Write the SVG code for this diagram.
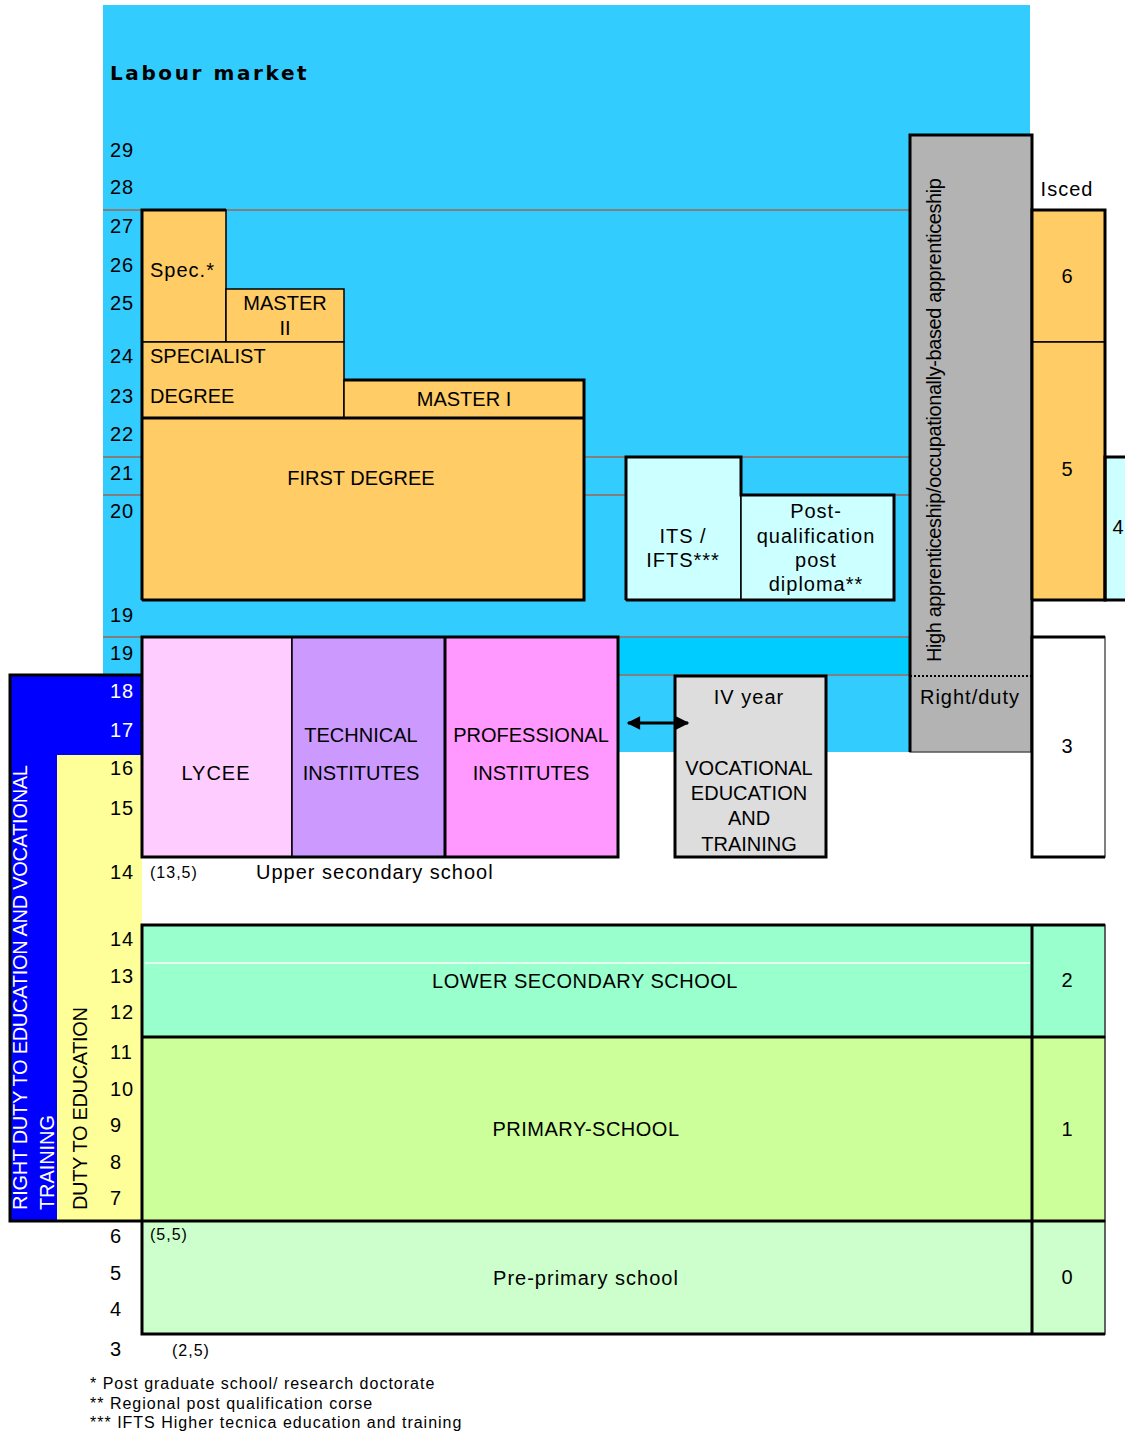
<svg xmlns="http://www.w3.org/2000/svg" width="1125" height="1433" viewBox="0 0 1125 1433">
<defs>
<style>
text{font-family:"Liberation Sans",Arial,sans-serif;font-size:20px;fill:#000}
.n{letter-spacing:1px}
.c{text-anchor:middle}
.lc{letter-spacing:1px}
.hc{letter-spacing:0.5px}
.w{fill:#fff}
.sm{font-size:16px;letter-spacing:1px}
.fn{font-size:16px;letter-spacing:1px}
.title{font-family:"DejaVu Sans",Verdana,sans-serif;font-weight:bold;font-size:20px;letter-spacing:2.6px}
.bx{stroke:#000;stroke-width:1.5}
.thick{stroke:#000;stroke-width:3;fill:none}
.grid{stroke:#808080;stroke-width:2}
.org{fill:#FFCC66}
.lcy{fill:#CCFFFF}
</style>
<marker id="ah" viewBox="0 0 10 10" refX="9" refY="5" markerWidth="5" markerHeight="4.5" orient="auto-start-reverse"><path d="M0,0 L10,5 L0,10 Z" fill="#000"/></marker>
</defs>
<rect x="0" y="0" width="1125" height="1433" fill="#fff"/>
<g id="labour-market">
<rect x="103" y="5" width="927" height="747" fill="#33CCFF"/>
<rect x="618" y="637" width="292" height="38" fill="#00CCFF"/>
<text class="title" x="110" y="80">Labour market</text>
</g>
<g id="grid">
<line class="grid" x1="103" y1="210" x2="910" y2="210"/>
<line class="grid" x1="103" y1="457" x2="910" y2="457"/>
<line class="grid" x1="103" y1="495" x2="910" y2="495"/>
<line class="grid" x1="103" y1="637" x2="910" y2="637"/>
<line class="grid" x1="103" y1="675" x2="910" y2="675"/>
<line class="grid" x1="103" y1="1073" x2="142" y2="1073"/>
<line class="grid" x1="103" y1="1110" x2="142" y2="1110"/>
</g>
<g id="duty-right">
<path d="M10,675 H142 V755 H57 V1221 H10 Z" fill="#0000FF"/>
<rect x="57" y="755" width="85" height="466" fill="#FFFF99"/>
<polyline class="thick" points="142,675 10,675 10,1221 142,1221"/>
<text class="w" transform="rotate(-90 27 1210)" x="27" y="1210" font-size="19" textLength="445" lengthAdjust="spacing">RIGHT DUTY TO EDUCATION AND VOCATIONAL</text>
<text class="w" transform="rotate(-90 54 1210)" x="54" y="1210" font-size="19" textLength="95" lengthAdjust="spacing">TRAINING</text>
</g>
<g id="duty">
<text transform="rotate(-90 87 1210)" x="87" y="1210" font-size="19" textLength="203" lengthAdjust="spacing">DUTY TO EDUCATION</text>
</g>
<g id="ages">
<text class="n" x="110" y="157">29</text>
<text class="n" x="110" y="194">28</text>
<text class="n" x="110" y="233">27</text>
<text class="n" x="110" y="272">26</text>
<text class="n" x="110" y="310">25</text>
<text class="n" x="110" y="363">24</text>
<text class="n" x="110" y="403">23</text>
<text class="n" x="110" y="441">22</text>
<text class="n" x="110" y="480">21</text>
<text class="n" x="110" y="518">20</text>
<text class="n" x="110" y="622">19</text>
<text class="n" x="110" y="660">19</text>
<text class="n w" x="110" y="698">18</text>
<text class="n w" x="110" y="737">17</text>
<text class="n" x="110" y="775">16</text>
<text class="n" x="110" y="815">15</text>
<text class="n" x="110" y="879">14</text>
<text class="n" x="110" y="946">14</text>
<text class="n" x="110" y="983">13</text>
<text class="n" x="110" y="1019">12</text>
<text class="n" x="110" y="1059">11</text>
<text class="n" x="110" y="1096">10</text>
<text class="n" x="110" y="1132">9</text>
<text class="n" x="110" y="1169">8</text>
<text class="n" x="110" y="1205">7</text>
<text class="n" x="110" y="1243">6</text>
<text class="n" x="110" y="1280">5</text>
<text class="n" x="110" y="1316">4</text>
<text class="n" x="110" y="1356">3</text>
</g>
<g id="spec">
<rect class="org bx" x="142" y="210" width="84" height="132"/>
<text class="lc" x="150" y="277">Spec.*</text>
</g>
<g id="master-2">
<rect class="org bx" x="226" y="289" width="118" height="53"/>
<text class="c" x="285" y="310">MASTER</text>
<text class="c" x="285" y="335">II</text>
</g>
<g id="specialist-degree">
<rect class="org bx" x="142" y="342" width="202" height="76"/>
<text x="150" y="363">SPECIALIST</text>
<text x="150" y="403">DEGREE</text>
</g>
<g id="master-1">
<rect class="org bx" x="344" y="380" width="240" height="38"/>
<text class="c" x="464" y="406">MASTER I</text>
</g>
<g id="first-degree">
<rect class="org bx" x="142" y="418" width="442" height="182"/>
<text class="c" x="361" y="485">FIRST DEGREE</text>
</g>
<g id="tertiary-outline">
<polyline class="thick" points="142,600 142,210 226,210"/>
<polyline class="thick" points="344,380 584,380 584,600 142,600"/>
<line class="thick" x1="142" y1="418" x2="584" y2="418"/>
</g>
<g id="its-ifts">
<rect class="lcy bx" x="626" y="457" width="115" height="143"/>
<text class="c lc" x="683" y="543">ITS /</text>
<text class="c lc" x="683" y="567">IFTS***</text>
</g>
<g id="post-qualification">
<rect class="lcy bx" x="741" y="495" width="153" height="105"/>
<text class="c lc" x="816" y="518">Post-</text>
<text class="c lc" x="816" y="543">qualification</text>
<text class="c lc" x="816" y="567">post</text>
<text class="c lc" x="816" y="591">diploma**</text>
<polyline class="thick" points="626,600 626,457 741,457 741,495 894,495 894,600 626,600"/>
</g>
<g id="apprenticeship">
<rect x="910" y="135" width="122" height="617" fill="#B3B3B3" stroke="#555" stroke-width="1.5"/>
<polyline class="thick" points="910,752 910,135 1032,135 1032,752"/>
<line x1="910" y1="676" x2="1032" y2="676" stroke="#000" stroke-width="2" stroke-dasharray="2,2"/>
<text transform="rotate(-90 941 662)" x="941" y="662" font-size="18" textLength="484" lengthAdjust="spacing">High apprenticeship/occupationally-based apprenticeship</text>
<text class="c lc" x="970" y="704">Right/duty</text>
</g>
<g id="lycee">
<rect x="142" y="637" width="150" height="220" fill="#FFCCFF" class="bx"/>
<text class="c lc" x="216" y="780">LYCEE</text>
</g>
<g id="technical-institutes">
<rect x="292" y="637" width="153" height="220" fill="#CC99FF" class="bx"/>
<text class="c" x="361" y="742">TECHNICAL</text>
<text class="c" x="361" y="780">INSTITUTES</text>
</g>
<g id="professional-institutes">
<rect x="445" y="637" width="173" height="220" fill="#FF99FF" class="bx"/>
<text class="c" x="531" y="742">PROFESSIONAL</text>
<text class="c" x="531" y="780">INSTITUTES</text>
<rect class="thick" x="142" y="637" width="476" height="220"/>
<line class="thick" x1="445" y1="637" x2="445" y2="857"/>
</g>
<g id="upper-secondary-label">
<text class="sm" x="150" y="878">(13,5)</text>
<text class="lc" x="256" y="879">Upper secondary school</text>
</g>
<g id="vocational">
<rect x="675" y="676" width="151" height="181" fill="#DDDDDD" stroke="#000" stroke-width="3"/>
<text class="c lc" x="749" y="704">IV year</text>
<text class="c" x="749" y="775">VOCATIONAL</text>
<text class="c" x="749" y="800">EDUCATION</text>
<text class="c" x="749" y="825">AND</text>
<text class="c" x="749" y="851">TRAINING</text>
</g>
<g id="connectors">
<line x1="628" y1="723" x2="688" y2="723" stroke="#000" stroke-width="3" marker-start="url(#ah)" marker-end="url(#ah)"/>
</g>
<g id="lower-secondary">
<rect x="142" y="925" width="890" height="112" fill="#99FFCC"/>
<line x1="145" y1="963" x2="1030" y2="963" stroke="#fff" stroke-width="1.5"/>
<text class="c hc" x="585" y="988">LOWER SECONDARY SCHOOL</text>
</g>
<g id="primary">
<rect x="142" y="1037" width="890" height="184" fill="#CCFF99"/>
<text class="c hc" x="586" y="1136">PRIMARY-SCHOOL</text>
</g>
<g id="pre-primary">
<rect x="142" y="1221" width="890" height="113" fill="#CCFFCC"/>
<text class="c lc" x="586" y="1285">Pre-primary school</text>
<text class="sm" x="150" y="1240">(5,5)</text>
<text class="sm" x="172" y="1356">(2,5)</text>
</g>
<g id="isced">
<text class="c lc" x="1067" y="196">Isced</text>
<rect class="org" x="1032" y="210" width="73" height="132" stroke="#000" stroke-width="1.5"/>
<rect class="org" x="1032" y="342" width="73" height="258" stroke="#000" stroke-width="1.5"/>
<rect class="lcy" x="1105" y="457" width="30" height="143" stroke="#000" stroke-width="3"/>
<polyline class="thick" points="1032,600 1032,210 1105,210 1105,600 1032,600"/>
<text class="c" x="1067" y="283">6</text>
<text class="c" x="1067" y="476">5</text>
<text class="c" x="1118" y="534">4</text>
<rect x="1032" y="637" width="73" height="220" fill="#fff" stroke="#555" stroke-width="1.5"/>
<polyline class="thick" points="1105,637 1032,637 1032,857 1105,857"/>
<text class="c" x="1067" y="753">3</text>
<rect x="1032" y="925" width="73" height="112" fill="#99FFCC" stroke="#333" stroke-width="1.5"/>
<rect x="1032" y="1037" width="73" height="184" fill="#CCFF99" stroke="#333" stroke-width="1.5"/>
<rect x="1032" y="1221" width="73" height="113" fill="#CCFFCC" stroke="#333" stroke-width="1.5"/>
<text class="c" x="1067" y="987">2</text>
<text class="c" x="1067" y="1136">1</text>
<text class="c" x="1067" y="1284">0</text>
</g>
<g id="lower-outline">
<polyline class="thick" points="1105,925 142,925 142,1334 1105,1334"/>
<line class="thick" x1="142" y1="1037" x2="1105" y2="1037"/>
<line class="thick" x1="142" y1="1221" x2="1105" y2="1221"/>
<line class="thick" x1="1032" y1="925" x2="1032" y2="1334"/>
</g>
<g id="footnotes">
<text class="fn" x="90" y="1389">* Post graduate school/ research doctorate</text>
<text class="fn" x="90" y="1409">** Regional post qualification corse</text>
<text class="fn" x="90" y="1428">*** IFTS Higher tecnica education and training</text>
</g>
</svg>
